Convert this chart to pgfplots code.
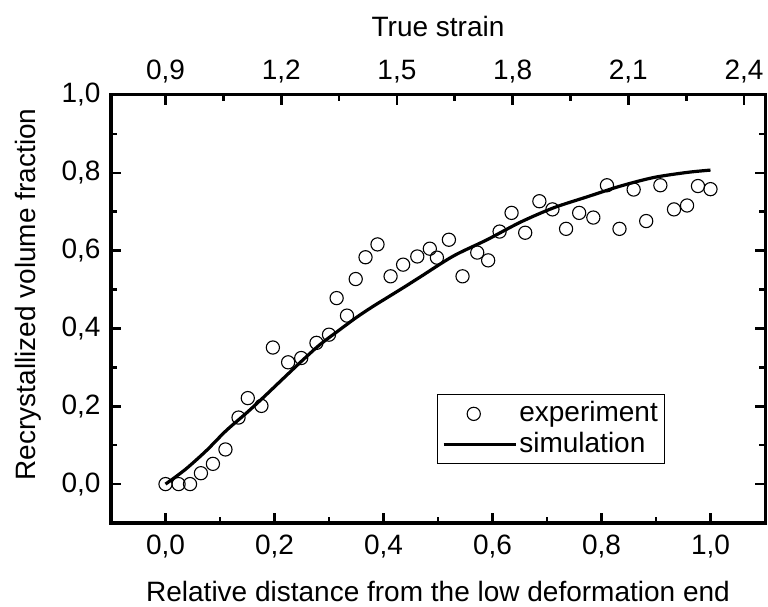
\documentclass[border=0pt]{standalone}
\usepackage{fontspec}
\setmainfont{Liberation Sans}
\usepackage{pgfplots}
\pgfplotsset{compat=1.18}
\pgfplotsset{
  markleg/.style={legend image code/.code={\draw[##1] plot coordinates {(30bp,0bp)};}},
  lineleg/.style={legend image code/.code={\draw[##1] (0bp,0bp) -- (72bp,0bp);}},
}
\begin{document}
\fontsize{28bp}{33bp}\selectfont
\begin{tikzpicture}
\useasboundingbox (0,0) rectangle (768bp,607bp);
\pgfplotsset{
  every axis/.append style={
    font=\fontsize{28bp}{33bp}\selectfont,
    /pgf/number format/.cd, fixed, fixed zerofill, precision=1, use comma, assume math mode=true,
  },
}
% top axis: true strain
\begin{axis}[
  at={(111bp,84bp)}, anchor=south west,
  width=654bp, height=428bp, scale only axis,
  xmin=0.7587, xmax=2.4543, ymin=0, ymax=1,
  axis x line*=top, axis y line=none,
  axis line style={line width=3bp},
  xtick={0.9,1.2,1.5,1.8,2.1,2.4}, minor x tick num=1,
  tick align=inside,
  major tick length=10bp, minor tick length=6bp,
  every tick/.style={line width=2.6bp, black},
  xticklabel style={yshift=2bp},
  xlabel={True strain},
  xlabel style={at={(axis description cs:0.5,1.159)}, anchor=center},
]
\end{axis}
% main axis
\begin{axis}[
  at={(111bp,84bp)}, anchor=south west,
  width=654bp, height=428bp, scale only axis,
  xmin=-0.1, xmax=1.1, ymin=-0.1, ymax=1.0,
  axis line style={line width=3bp},
  xtick={0,0.2,0.4,0.6,0.8,1.0}, minor x tick num=1,
  ytick={0,0.2,0.4,0.6,0.8,1.0}, minor y tick num=1,
  xtick pos=bottom, ytick pos=both, yticklabel pos=left,
  tick align=inside,
  major tick length=10bp, minor tick length=6bp,
  every tick/.style={line width=2.6bp, black},
  xticklabel style={yshift=-2bp},
  yticklabel style={xshift=-1bp},
  xlabel={Relative distance from the low deformation end},
  xlabel style={at={(axis description cs:0.5,-0.161)}, anchor=center},
  ylabel={Recrystallized volume fraction},
  ylabel style={at={(axis description cs:-0.127,0.534)}, anchor=center},
  legend style={draw=black, line width=0.9bp, at={(axis description cs:0.498,0.301)}, anchor=north west,
    inner xsep=5bp, inner ysep=5bp, row sep=2bp,
    font=\fontsize{28bp}{33bp}\selectfont},
  legend cell align=left,
]
\addplot[only marks, mark=o, mark size=6.6bp, black, mark options={line width=1.1bp}, markleg]
coordinates {
(0,0) (0.024,0) (0.045,0) (0.065,0.028) (0.087,0.052) (0.110,0.089)
(0.134,0.171) (0.151,0.221) (0.176,0.201) (0.197,0.351) (0.225,0.313)
(0.249,0.324) (0.277,0.363) (0.300,0.384) (0.314,0.478) (0.333,0.433)
(0.349,0.527) (0.367,0.583) (0.389,0.616) (0.413,0.534) (0.436,0.564)
(0.462,0.585) (0.485,0.605) (0.498,0.582) (0.520,0.628) (0.545,0.534)
(0.572,0.595) (0.592,0.575) (0.613,0.649) (0.635,0.697) (0.660,0.646)
(0.686,0.727) (0.710,0.706) (0.735,0.656) (0.759,0.697) (0.785,0.685)
(0.810,0.768) (0.833,0.656) (0.859,0.757) (0.882,0.676) (0.908,0.768)
(0.933,0.706) (0.957,0.716) (0.977,0.766) (1.000,0.758)
};
\addlegendentry{experiment}
\addplot[black, line width=3.2bp, no marks, smooth, lineleg]
coordinates {
(0,0) (0.02,0.02) (0.041,0.043) (0.075,0.086) (0.111,0.137) (0.148,0.182)
(0.179,0.222) (0.215,0.270) (0.249,0.315) (0.283,0.358) (0.320,0.397) (0.350,0.428)
(0.380,0.456) (0.410,0.482) (0.440,0.508) (0.467,0.532) (0.528,0.586) (0.590,0.628) (0.651,0.673)
(0.712,0.710) (0.773,0.738) (0.835,0.766) (0.896,0.788) (0.957,0.801)
(1.0,0.807)
};
\addlegendentry{simulation}
\end{axis}
\end{tikzpicture}
\end{document}
